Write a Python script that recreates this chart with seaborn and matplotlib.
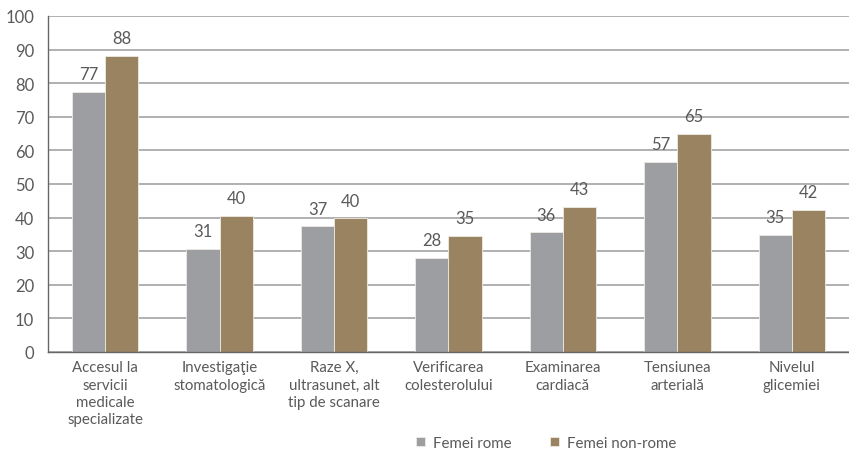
import matplotlib
matplotlib.use("Agg")
import matplotlib.pyplot as plt
import seaborn as sns
import pandas as pd
import numpy as np

categories = [
    "Accesul la\nservicii\nmedicale\nspecializate",
    "Investigaţie\nstomatologică",
    "Raze X,\nultrasunet, alt\ntip de scanare",
    "Verificarea\ncolesterolului",
    "Examinarea\ncardiacă",
    "Tensiunea\narterială",
    "Nivelul\nglicemiei",
]
series = ["Femei rome", "Femei non-rome"]
rome = [77.4, 30.7, 37.4, 28.0, 35.6, 56.6, 34.9]
non_rome = [88.1, 40.5, 39.8, 34.6, 43.2, 64.9, 42.4]
colors = ["#9d9ea2", "#9a8361"]

sns.set_theme(style="white")
plt.rcParams["font.family"] = ["Lato", "DejaVu Sans"]
plt.rcParams["font.weight"] = "normal"

df = pd.DataFrame({
    "cat": categories * 2,
    "serie": [series[0]] * 7 + [series[1]] * 7,
    "val": rome + non_rome,
})

fig = plt.figure(figsize=(8.49, 4.52), dpi=100)
ax = fig.add_axes([48 / 849, 99 / 452, 801 / 849, 336 / 452])
sns.barplot(data=df, x="cat", y="val", hue="serie", palette=colors,
            width=0.58, ax=ax, edgecolor="#eeeae4", linewidth=0.6,
            saturation=1, legend=True)

txt = "#5a5a5a"
for cont in ax.containers:
    ax.bar_label(cont, labels=[f"{v:.0f}" for v in cont.datavalues],
                 padding=7, fontsize=12, color=txt)

ax.set_ylim(0, 100)
ax.set_xlim(-0.5, 6.5)
ax.set_yticks(range(0, 101, 10))
ax.yaxis.grid(True, color="#a3a3a3", linewidth=1.2)
ax.set_axisbelow(True)
ax.set_xlabel("")
ax.set_ylabel("")
for s in ["top", "right"]:
    ax.spines[s].set_visible(False)
for s in ["left", "bottom"]:
    ax.spines[s].set_color("#666666")
    ax.spines[s].set_linewidth(1.0)
ax.tick_params(axis="x", which="major", length=0, pad=6, labelsize=10.8, labelcolor=txt)
ax.set_xticks(np.arange(0.5, 6.5, 1), minor=True)
ax.tick_params(axis="x", which="minor", length=5, color="#666666", direction="out")
ax.tick_params(axis="y", length=5, color="#666666", labelsize=12, labelcolor=txt, pad=5)
for lab in ax.get_xticklabels():
    lab.set_linespacing(1.3)

ax.legend(loc="center", bbox_to_anchor=(0.622, -0.27),
          ncol=2, frameon=False, fontsize=10.8, handlelength=0.6, handleheight=0.6,
          columnspacing=2.6, handletextpad=0.5, labelcolor=txt, borderpad=0.2)

fig.savefig("out.png", dpi=100)
